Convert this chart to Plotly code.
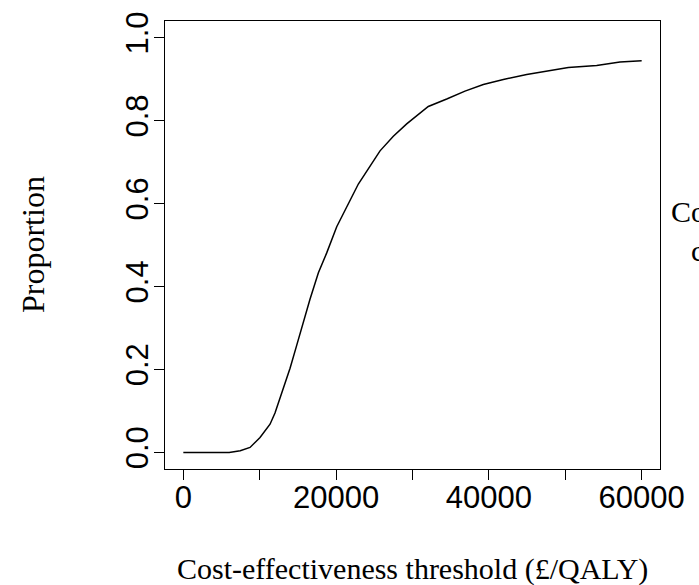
import plotly.graph_objects as go

# Cost-effectiveness acceptability curve: threshold (GBP/QALY) vs proportion cost-effective
threshold = [0, 2000, 4000, 6000, 7450, 8730, 10040, 10920, 11350, 12000, 12220, 13090,
             13970, 14840, 15710, 16580, 17680, 18770, 20080, 21390, 22910, 25750,
             27490, 29240, 32070, 34480, 36870, 39270, 41890, 44950, 48000, 50400,
             54110, 57160, 60000]
proportion = [0.0, 0.0, 0.0, 0.0, 0.004, 0.012, 0.036, 0.058, 0.068, 0.095, 0.107, 0.150,
              0.203, 0.258, 0.314, 0.369, 0.433, 0.481, 0.544, 0.592, 0.647, 0.727,
              0.762, 0.792, 0.834, 0.852, 0.871, 0.887, 0.899, 0.911, 0.921, 0.928,
              0.933, 0.941, 0.944]

x_ticks = [0, 10000, 20000, 30000, 40000, 50000, 60000]
x_tick_labels = ["0", "", "20000", "", "40000", "", "60000"]
y_ticks = [0.0, 0.2, 0.4, 0.6, 0.8, 1.0]
y_tick_labels = ["0.0", "0.2", "0.4", "0.6", "0.8", "1.0"]

SERIF = "Liberation Serif, Times New Roman, serif"
SANS = "Liberation Sans, Arial, Helvetica, sans-serif"

fig = go.Figure()
fig.add_trace(go.Scatter(
    x=threshold, y=proportion, mode="lines",
    line=dict(color="black", width=1.5), showlegend=False, hoverinfo="skip",
))

axis_common = dict(
    showgrid=False, zeroline=False, showline=True, linecolor="black", linewidth=1,
    mirror=True, ticks="outside", ticklen=10, tickwidth=1, tickcolor="black",
    tickfont=dict(family=SANS, size=31, color="black"),
)

fig.update_xaxes(range=[-2400, 62400], tickvals=x_ticks, ticktext=x_tick_labels,
                 ticklabelstandoff=-9, **axis_common)
fig.update_yaxes(range=[-0.04, 1.04], tickvals=y_ticks, ticktext=y_tick_labels,
                 tickangle=-90, ticklabelstandoff=-6, **axis_common)

fig.add_annotation(text="Cost-effectiveness threshold (£/QALY)", xref="paper", yref="paper",
                   x=0.5, y=0, yshift=-100, xanchor="center", yanchor="middle",
                   showarrow=False, font=dict(family=SERIF, size=30, color="black"))
fig.add_annotation(text="Proportion", xref="paper", yref="paper",
                   x=0, y=0.5, xshift=-132, textangle=-90, xanchor="center", yanchor="middle",
                   showarrow=False, font=dict(family=SERIF, size=32, color="black"))
# side caption, running off the right edge of the page
fig.add_annotation(text="Cost-effective", xref="paper", yref="paper",
                   x=1, y=0.574, xshift=9, xanchor="left", yanchor="middle",
                   showarrow=False, font=dict(family=SERIF, size=30, color="black"))
fig.add_annotation(text="comparator", xref="paper", yref="paper",
                   x=1, y=0.487, xshift=29, xanchor="left", yanchor="middle",
                   showarrow=False, font=dict(family=SERIF, size=30, color="black"))

fig.update_layout(
    width=699, height=585,
    margin=dict(l=165, r=39, t=15, b=116),
    paper_bgcolor="white", plot_bgcolor="white",
)

fig.write_html("out.html")
